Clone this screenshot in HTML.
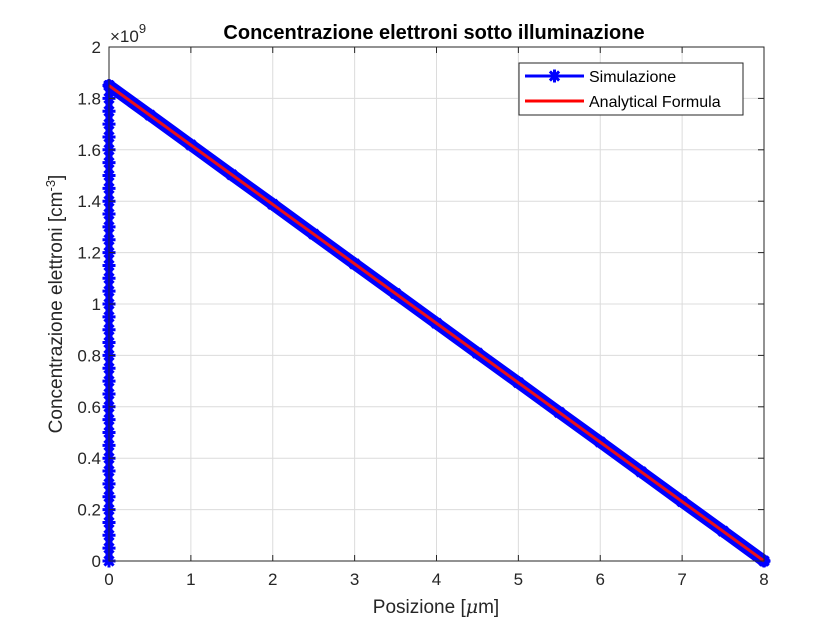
<!DOCTYPE html>
<html><head><meta charset="utf-8"><style>
body{margin:0;background:#fff;}
svg{display:block;font-family:"Liberation Sans",sans-serif;}
</style></head><body>
<svg id="chart" width="840" height="630">
<rect width="840" height="630" fill="#fff"/>
<g id="grid"></g>
<g id="series"></g>
<g id="axes"></g>
<text x="434" y="39" text-anchor="middle" font-size="20" font-weight="bold">Concentrazione elettroni sotto illuminazione</text>
<text x="436" y="613" text-anchor="middle" font-size="19" fill="#262626">Posizione [<tspan font-style="italic" font-family="'DejaVu Serif',serif">μ</tspan>m]</text>
<text transform="translate(62,304) rotate(-90)" text-anchor="middle" font-size="19" fill="#262626">Concentrazione elettroni [cm<tspan dy="-7" font-size="13">-3</tspan><tspan dy="7">]</tspan></text>
<text x="110" y="42" font-size="17" fill="#262626">×10<tspan dy="-9" font-size="13">9</tspan></text>
<g>
<rect x="519" y="63" width="224" height="52" fill="#fff" stroke="#262626" stroke-width="1"/>
<line x1="525" y1="76" x2="584" y2="76" stroke="#0000ff" stroke-width="3"/>
<g id="legmark"></g>
<text x="589" y="82" font-size="16" fill="#000">Simulazione</text>
<line x1="525" y1="101" x2="584" y2="101" stroke="#ff0000" stroke-width="3"/>
<text x="589" y="107" font-size="16" fill="#000">Analytical Formula</text>
</g>
</svg>
<script>
const xTicks=[0,1,2,3,4,5,6,7,8];
const yTicks=[0,0.2,0.4,0.6,0.8,1,1.2,1.4,1.6,1.8,2];
const yTickLabels=["0","0.2","0.4","0.6","0.8","1","1.2","1.4","1.6","1.8","2"];
const simVertY=[0,0.05,0.1,0.15,0.2,0.25,0.3,0.35,0.4,0.45,0.5,0.55,0.6,0.65,0.7,0.75,0.8,0.85,0.9,0.95,1.0,1.05,1.1,1.15,1.2,1.25,1.3,1.35,1.4,1.45,1.5,1.55,1.6,1.65,1.7,1.75,1.8,1.85];
const simDiagX=[0,0.5,1,1.5,2,2.5,3,3.5,4,4.5,5,5.5,6,6.5,7,7.5,8];
const simDiagY=[1.85,1.735,1.619,1.503,1.388,1.272,1.156,1.041,0.925,0.809,0.694,0.578,0.463,0.347,0.231,0.116,0];
const anaX=[0,8];
const anaY=[1.85,0];
const L=109,R=764,T=47,B=561;
const sx=v=>L+(v-0)/(8-0)*(R-L);
const sy=v=>B-(v-0)/(2-0)*(B-T);
const NS="http://www.w3.org/2000/svg";
function mk(tag,attrs,parent){const e=document.createElementNS(NS,tag);for(const k in attrs)e.setAttribute(k,attrs[k]);parent.appendChild(e);return e;}
function star(cx,cy,parent){
 const r=6.5,d=r*0.707;
 const p=`M${cx-r},${cy}L${cx+r},${cy}M${cx},${cy-r}L${cx},${cy+r}M${cx-d},${cy-d}L${cx+d},${cy+d}M${cx-d},${cy+d}L${cx+d},${cy-d}`;
 return mk('path',{d:p,stroke:'#0000ff','stroke-width':3,fill:'none'},parent);
}
const grid=document.getElementById('grid'),axes=document.getElementById('axes'),ser=document.getElementById('series');
xTicks.forEach((t,i)=>{
 const g=mk('line',{x1:sx(t),x2:sx(t),y1:T,y2:B,stroke:'#dcdcdc','stroke-width':1},grid);
 
 
 const tk=mk('line',{x1:sx(t),x2:sx(t),y1:B,y2:B-6,stroke:'#262626'},axes);
 
 
 const tk2=mk('line',{x1:sx(t),x2:sx(t),y1:T,y2:T+6,stroke:'#262626'},axes);
 
 
 const lb=mk('text',{x:sx(t),y:B+24,'text-anchor':'middle','font-size':17,fill:'#262626'},axes);
 lb.textContent=String(t);
 
 
});
yTicks.forEach((t,i)=>{
 const g=mk('line',{x1:L,x2:R,y1:sy(t),y2:sy(t),stroke:'#dcdcdc','stroke-width':1},grid);
 
 
 const tk=mk('line',{x1:L,x2:L+6,y1:sy(t),y2:sy(t),stroke:'#262626'},axes);
 
 
 const tk2=mk('line',{x1:R,x2:R-6,y1:sy(t),y2:sy(t),stroke:'#262626'},axes);
 
 
 const lb=mk('text',{x:L-8,y:sy(t)+6,'text-anchor':'end','font-size':17,fill:'#262626'},axes);
 lb.textContent=yTickLabels[i];
 
 
});
const box=mk('rect',{x:L,y:T,width:R-L,height:B-T,fill:'none',stroke:'#262626','stroke-width':1},axes);


const simPts=simVertY.map(v=>[0,v]).concat(simDiagX.map((x,i)=>[x,simDiagY[i]]));
const band=mk('polyline',{points:simDiagX.map((x,i)=>sx(x)+','+sy(simDiagY[i])).join(' '),fill:'none',stroke:'#0000ff','stroke-width':12,'stroke-linejoin':'round','stroke-linecap':'round'},ser);


const vline=mk('line',{x1:sx(0),x2:sx(0),y1:sy(simVertY[0]),y2:sy(simVertY[simVertY.length-1]),stroke:'#0000ff','stroke-width':7},ser);


simPts.forEach(p=>{
 const m=star(sx(p[0]),sy(p[1]),ser);
 
 
});
const lm=star(554.5,76,document.getElementById('legmark'));


const ana=mk('polyline',{points:anaX.map((x,i)=>sx(x)+','+sy(anaY[i])).join(' '),fill:'none',stroke:'#e8101a','stroke-width':3},ser);


</script>
</body></html>
